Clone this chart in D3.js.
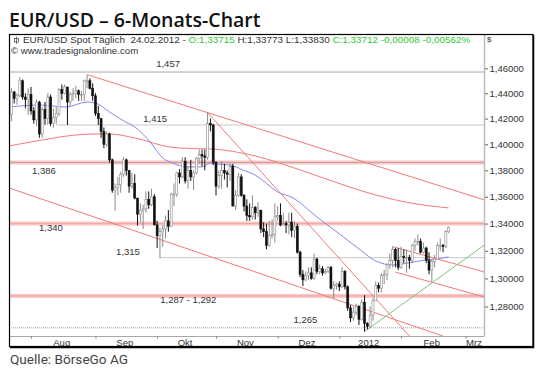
<!DOCTYPE html>
<html>
<head>
<meta charset="utf-8">
<script src="https://cdn.jsdelivr.net/npm/d3@7"></script>
<style>
  body { margin: 0; background: #fff; }
  text { font-family: "Liberation Sans", Arial, sans-serif; }
</style>
</head>
<body>
<svg id="chart" width="540" height="370"></svg>
<script>
// daily candles [open, high, low, close], index 0 = 21.07.2011, one per trading day
const candles = [
  // Jul 2011
  [1.4230,1.4440,1.4180,1.4410],[1.4410,1.4420,1.4320,1.4360],[1.4360,1.4400,1.4310,1.4380],
  [1.4380,1.4530,1.4370,1.4500],[1.4500,1.4510,1.4350,1.4370],[1.4370,1.4400,1.4280,1.4350],
  [1.4350,1.4440,1.4230,1.4390],
  // Aug
  [1.4390,1.4450,1.4230,1.4260],[1.4260,1.4290,1.4160,1.4190],[1.4190,1.4350,1.4140,1.4330],
  [1.4330,1.4340,1.4050,1.4080],[1.4080,1.4290,1.4050,1.4270],[1.4270,1.4330,1.4150,1.4200],
  [1.4200,1.4400,1.4150,1.4370],[1.4370,1.4390,1.4140,1.4160],[1.4160,1.4280,1.4130,1.4210],
  [1.4210,1.4290,1.4160,1.4240],[1.4240,1.4440,1.4220,1.4430],[1.4430,1.4470,1.4350,1.4400],
  [1.4400,1.4470,1.4390,1.4450],[1.4450,1.4450,1.4150,1.4330],[1.4330,1.4410,1.4300,1.4390],
  [1.4390,1.4440,1.4340,1.4400],[1.4400,1.4460,1.4360,1.4420],[1.4420,1.4430,1.4340,1.4390],
  [1.4390,1.4420,1.4340,1.4390],[1.4390,1.4510,1.4340,1.4500],[1.4500,1.4549,1.4440,1.4500],
  [1.4500,1.4520,1.4430,1.4440],[1.4440,1.4480,1.4340,1.4380],
  // Sep
  [1.4380,1.4400,1.4220,1.4240],[1.4240,1.4300,1.4150,1.4200],[1.4200,1.4200,1.4050,1.4100],
  [1.4100,1.4130,1.3970,1.4000],[1.4000,1.4100,1.3980,1.4080],[1.4080,1.4090,1.3860,1.3880],
  [1.3880,1.3890,1.3630,1.3650],[1.3650,1.3700,1.3495,1.3670],[1.3670,1.3750,1.3610,1.3690],
  [1.3690,1.3790,1.3630,1.3770],[1.3770,1.3900,1.3750,1.3880],[1.3880,1.3890,1.3760,1.3800],
  [1.3800,1.3800,1.3630,1.3680],[1.3680,1.3780,1.3660,1.3700],[1.3700,1.3770,1.3580,1.3590],
  [1.3590,1.3590,1.3385,1.3470],[1.3470,1.3550,1.3410,1.3500],[1.3500,1.3540,1.3360,1.3510],
  [1.3510,1.3640,1.3480,1.3580],[1.3580,1.3640,1.3510,1.3540],[1.3540,1.3660,1.3530,1.3600],
  [1.3600,1.3620,1.3390,1.3390],
  // Okt
  [1.3390,1.3420,1.3220,1.3310],[1.3310,1.3370,1.3146,1.3340],[1.3340,1.3390,1.3230,1.3360],
  [1.3360,1.3460,1.3290,1.3420],[1.3420,1.3500,1.3340,1.3380],[1.3380,1.3630,1.3380,1.3620],
  [1.3620,1.3700,1.3530,1.3620],[1.3620,1.3790,1.3600,1.3780],[1.3780,1.3810,1.3700,1.3750],
  [1.3750,1.3900,1.3740,1.3870],[1.3870,1.3900,1.3700,1.3720],[1.3720,1.3830,1.3660,1.3800],
  [1.3800,1.3880,1.3720,1.3750],[1.3750,1.3800,1.3650,1.3780],[1.3780,1.3900,1.3770,1.3890],
  [1.3890,1.3960,1.3850,1.3920],[1.3920,1.3960,1.3830,1.3910],[1.3910,1.3960,1.3800,1.3900],
  [1.3900,1.4247,1.3880,1.4160],[1.4160,1.4200,1.4100,1.4150],[1.4150,1.4160,1.3840,1.3860],
  // Nov
  [1.3860,1.3870,1.3610,1.3680],[1.3680,1.3800,1.3660,1.3760],[1.3760,1.3870,1.3660,1.3800],
  [1.3800,1.3850,1.3730,1.3780],[1.3780,1.3800,1.3670,1.3770],[1.3770,1.3850,1.3720,1.3830],
  [1.3830,1.3850,1.3530,1.3530],[1.3530,1.3650,1.3500,1.3610],[1.3610,1.3780,1.3600,1.3750],
  [1.3750,1.3770,1.3600,1.3610],[1.3610,1.3620,1.3490,1.3530],[1.3530,1.3580,1.3420,1.3460],
  [1.3460,1.3550,1.3420,1.3450],[1.3450,1.3610,1.3430,1.3520],[1.3520,1.3530,1.3430,1.3480],
  [1.3480,1.3560,1.3450,1.3500],[1.3500,1.3500,1.3330,1.3360],[1.3360,1.3410,1.3300,1.3340],
  [1.3340,1.3400,1.3211,1.3240],[1.3240,1.3420,1.3230,1.3310],[1.3310,1.3430,1.3290,1.3320],
  [1.3320,1.3550,1.3260,1.3450],
  // Dez
  [1.3450,1.3530,1.3420,1.3460],[1.3460,1.3550,1.3380,1.3390],[1.3390,1.3480,1.3390,1.3400],
  [1.3400,1.3420,1.3330,1.3390],[1.3390,1.3480,1.3320,1.3410],[1.3410,1.3480,1.3300,1.3350],
  [1.3350,1.3420,1.3290,1.3380],[1.3380,1.3400,1.3180,1.3190],[1.3190,1.3200,1.3010,1.3030],
  [1.3030,1.3060,1.2945,1.2990],[1.2990,1.3050,1.2980,1.3020],[1.3020,1.3080,1.2990,1.3040],
  [1.3040,1.3080,1.2990,1.3000],[1.3000,1.3180,1.2990,1.3140],[1.3140,1.3150,1.3030,1.3050],
  [1.3050,1.3100,1.3030,1.3070],[1.3070,1.3090,1.3020,1.3040],[1.3040,1.3070,1.3030,1.3050],
  [1.3050,1.3090,1.3040,1.3080],[1.3080,1.3090,1.2920,1.2930],[1.2930,1.2980,1.2860,1.2950],
  [1.2950,1.2970,1.2920,1.2960],
  // Jan 2012
  [1.2960,1.2980,1.2910,1.2940],[1.2940,1.3080,1.2930,1.3050],[1.3050,1.3060,1.2920,1.2940],
  [1.2940,1.2950,1.2770,1.2790],[1.2790,1.2810,1.2690,1.2720],[1.2720,1.2800,1.2700,1.2760],
  [1.2760,1.2820,1.2740,1.2800],[1.2800,1.2810,1.2670,1.2710],[1.2710,1.2850,1.2700,1.2830],
  [1.2830,1.2880,1.2624,1.2680],[1.2680,1.2690,1.2640,1.2660],[1.2660,1.2800,1.2650,1.2740],
  [1.2740,1.2860,1.2700,1.2840],[1.2840,1.2980,1.2840,1.2950],[1.2950,1.2970,1.2900,1.2930],
  [1.2930,1.3040,1.2900,1.3020],[1.3020,1.3060,1.2960,1.3030],[1.3030,1.3110,1.2990,1.3100],
  [1.3100,1.3180,1.3070,1.3130],[1.3130,1.3230,1.3080,1.3210],[1.3210,1.3220,1.3080,1.3130],
  [1.3130,1.3220,1.3060,1.3080],
  // Feb
  [1.3080,1.3230,1.3070,1.3160],[1.3160,1.3210,1.3110,1.3150],[1.3150,1.3210,1.3040,1.3150],
  [1.3150,1.3170,1.3070,1.3130],[1.3130,1.3250,1.3110,1.3240],[1.3240,1.3290,1.3200,1.3270],
  [1.3270,1.3320,1.3240,1.3270],[1.3270,1.3290,1.3180,1.3190],[1.3190,1.3260,1.3180,1.3220],
  [1.3220,1.3230,1.3110,1.3130],[1.3130,1.3190,1.3030,1.3060],[1.3060,1.3140,1.2975,1.3120],
  [1.3120,1.3170,1.3080,1.3140],[1.3140,1.3260,1.3140,1.3240],[1.3240,1.3290,1.3200,1.3240],
  [1.3240,1.3250,1.3190,1.3230],[1.3230,1.3350,1.3220,1.3340],[1.3340,1.3378,1.3330,1.3371]
];

// moving averages: [day index, price]
const maBlue = [
  [-0.8,1.4291],[10,1.4307],[19.5,1.4291],[27,1.4331],[30,1.4323],[35,1.4252],[39.5,1.4189],
  [44,1.4135],[49.5,1.4018],[54,1.3894],[57.5,1.3856],[62.5,1.3826],[68,1.3826],[71,1.3856],
  [73.5,1.3848],[78,1.3841],[82.5,1.3803],[87,1.3764],[95,1.3636],[100.5,1.3591],[109,1.3449],
  [118.5,1.3301],[124.5,1.3206],[130,1.3126],[136,1.3097],[141.5,1.3111],[147.5,1.3133],
  [151,1.3140],[156,1.3155]
];
const maRed = [
  [-0.8,1.3987],[11,1.4033],[23,1.4072],[30,1.4080],[35,1.4080],[44,1.4049],[56.5,1.3979],
  [64,1.3967],[71,1.3964],[87,1.3910],[103,1.3803],[117.5,1.3696],[130,1.3613],[142.5,1.3553],
  [156,1.3516]
];

// trend lines: [[index, price], [index, price]]
const trendRed = [
  [[27,1.4549],[168.8,1.3576]],
  [[-0.8,1.3666],[154,1.2593]],
  [[70,1.4247],[142,1.2593]],
  [[136,1.3231],[168.8,1.3046]],
  [[137,1.3046],[168.8,1.2867]]
];
const trendGreen = [[126,1.2624],[168.8,1.3243]];

// marked levels
const levels = [
  { v: 1.457,  text: "1,457",         kind: "gray",   from: -1 },
  { v: 1.415,  text: "1,415",         kind: "light",  from: 15.9 },
  { v: 1.386,  text: "1,386",         kind: "bandDark" },
  { v: 1.340,  text: "1,340",         kind: "band" },
  { v: 1.315,  text: "1,315",         kind: "light",  from: 53 },
  { v: 1.2875, text: "1,287 - 1,292", kind: "band" },
  { v: 1.265,  text: "1,265",         kind: "dotted" }
];

const priceTicks = [1.46, 1.44, 1.42, 1.40, 1.38, 1.36, 1.34, 1.32, 1.30, 1.28];
const monthTicks = [7, 30, 52, 73, 95, 117, 139, 162];
const monthLabels = ["Aug", "Sep", "Okt", "Nov", "Dez", "2012", "Feb", "Mrz"];

// ---------------------------------------------------------------
const svg = d3.select("#chart");
const plot = { left: 9, right: 484, top: 34, bottom: 336 };

const x = d3.scaleLinear().domain([7, 139]).range([31, 401]);
const y = d3.scaleLog().domain([1.28, 1.46]).range([306.5, 68.3]);

svg.append("rect").attr("width", 540).attr("height", 370).attr("fill", "#fff");

svg.append("defs").append("clipPath").attr("id", "clip")
  .append("rect")
  .attr("x", plot.left).attr("y", plot.top)
  .attr("width", plot.right - plot.left).attr("height", plot.bottom - plot.top);

// title
svg.append("text")
  .attr("x", 9).attr("y", 27)
  .style("font-family", "'Open Sans', sans-serif")
  .style("font-weight", 600)
  .style("font-size", "19.5px")
  .attr("fill", "#111")
  .text("EUR/USD – 6-Monats-Chart");

const g = svg.append("g").attr("clip-path", "url(#clip)");

// levels
const lw = plot.right - plot.left;
levels.forEach(l => {
  const ly = y(l.v);
  if (l.kind === "band" || l.kind === "bandDark") {
    g.append("rect").attr("x", plot.left).attr("width", lw)
      .attr("y", ly - 2).attr("height", 4).attr("fill", "#f8c6c6");
    g.append("line").attr("x1", plot.left).attr("x2", plot.right)
      .attr("y1", ly).attr("y2", ly)
      .attr("stroke", l.kind === "bandDark" ? "#c4a29c" : "#f2a7a7").attr("stroke-width", 1);
  } else {
    const x1 = l.from !== undefined ? Math.max(plot.left, x(l.from)) : plot.left;
    g.append("line").attr("x1", x1).attr("x2", plot.right)
      .attr("y1", ly).attr("y2", ly)
      .attr("stroke", l.kind === "gray" ? "#a8a8a8" : (l.kind === "dotted" ? "#a0a0a0" : "#c8c8c8"))
      .attr("stroke-width", 1)
      .attr("stroke-dasharray", l.kind === "dotted" ? "1,1" : null);
  }
});

const line = d3.line().x(d => x(d[0])).y(d => y(d[1]));

// moving averages
g.append("path").datum(maRed).attr("d", line.curve(d3.curveMonotoneX))
  .attr("fill", "none").attr("stroke", "#f27c7c").attr("stroke-width", 1);
g.append("path").datum(maBlue).attr("d", line.curve(d3.curveMonotoneX))
  .attr("fill", "none").attr("stroke", "#8585f2").attr("stroke-width", 1);

// trend lines
line.curve(d3.curveLinear);
g.selectAll("path.trend").data(trendRed).join("path").attr("class", "trend")
  .attr("d", line).attr("fill", "none").attr("stroke", "#f07a7a").attr("stroke-width", 1);
g.append("path").datum(trendGreen).attr("d", line)
  .attr("fill", "none").attr("stroke", "#7cc47c").attr("stroke-width", 1);

// candles
const bw = 2;
const cg = g.selectAll("g.candle").data(candles).join("g").attr("class", "candle");
cg.append("line")
  .attr("x1", (d, i) => x(i)).attr("x2", (d, i) => x(i))
  .attr("y1", d => y(d[1])).attr("y2", d => y(d[2]))
  .attr("stroke", d => d[3] >= d[0] ? "#8a8a8a" : "#111").attr("stroke-width", 1);
cg.append("rect")
  .attr("x", (d, i) => x(i) - bw / 2)
  .attr("width", bw)
  .attr("y", d => y(Math.max(d[0], d[3])))
  .attr("height", d => Math.max(1, y(Math.min(d[0], d[3])) - y(Math.max(d[0], d[3]))))
  .attr("fill", d => d[3] >= d[0] ? "#fff" : "#111")
  .attr("stroke", d => d[3] >= d[0] ? "#8a8a8a" : "#111")
  .attr("stroke-width", 0.6);

// level labels
const labelPos = {
  "1,457": [55.9, -5], "1,415": [51.3, -2.5], "1,386": [11.6, 11.5], "1,340": [14.1, 7.5],
  "1,315": [41.6, -3], "1,287 - 1,292": [63.1, 7], "1,265": [104.9, -5]
};
svg.append("g").selectAll("text").data(levels).join("text")
  .attr("x", d => x(labelPos[d.text][0]))
  .attr("y", d => y(d.v) + labelPos[d.text][1])
  .attr("text-anchor", "middle")
  .attr("font-size", "9.5px").attr("fill", "#333")
  .text(d => d.text);

// axes
svg.append("line").attr("x1", plot.left).attr("x2", plot.right)
  .attr("y1", plot.bottom + 0.5).attr("y2", plot.bottom + 0.5)
  .attr("stroke", "#a8a8a8");
svg.append("line").attr("x1", plot.right + 0.5).attr("x2", plot.right + 0.5)
  .attr("y1", plot.top).attr("y2", plot.bottom + 0.5)
  .attr("stroke", "#bdbdbd").attr("stroke-width", 1.5);

const yAxis = svg.append("g").attr("transform", `translate(${plot.right + 1},0)`)
  .call(d3.axisRight(y).tickValues(priceTicks).tickSize(3).tickPadding(1.5)
    .tickFormat(d => d.toFixed(5).replace(".", ",")));
yAxis.select(".domain").remove();
yAxis.selectAll("line").attr("stroke", "#666");
yAxis.selectAll("text").attr("font-size", "9.5px").attr("fill", "#333")
  .style("font-family", "'Liberation Sans', Arial, sans-serif");

const xAxis = svg.append("g").attr("transform", `translate(0,${plot.bottom + 0.5})`)
  .call(d3.axisBottom(x).tickValues(monthTicks).tickSize(2).tickFormat(""));
xAxis.select(".domain").remove();
xAxis.selectAll("line").attr("stroke", "#777");

svg.append("g").selectAll("text").data(monthLabels).join("text")
  .attr("x", (d, i) => i < monthTicks.length - 1
    ? (x(monthTicks[i]) + x(monthTicks[i + 1])) / 2 - 1.5
    : plot.right - 10)
  .attr("y", 345.5)
  .attr("text-anchor", "middle")
  .attr("font-size", "9.5px").attr("fill", "#333")
  .text(d => d);

// header inside frame
const hdr = svg.append("text").attr("x", 23).attr("y", 43).attr("font-size", "9.9px").attr("fill", "#333");
hdr.append("tspan").text("EUR/USD Spot Täglich  24.02.2012 - ").attr("xml:space", "preserve");
hdr.append("tspan").text("O:1,33715").attr("fill", "#33c733");
hdr.append("tspan").text(" H:1,33773 L:1,33830 ");
hdr.append("tspan").text("C:1,33712 -0,00008 -0,00562%").attr("fill", "#33c733");
svg.append("rect").attr("x", 14.5).attr("y", 38.5).attr("width", 4).attr("height", 3.5)
  .attr("fill", "none").attr("stroke", "#555").attr("stroke-width", 0.8);
svg.append("line").attr("x1", 16.5).attr("x2", 16.5).attr("y1", 36.5).attr("y2", 44)
  .attr("stroke", "#555").attr("stroke-width", 0.8);
svg.append("text").attr("x", 11).attr("y", 54).attr("font-size", "9.7px").attr("fill", "#333")
  .text("© www.tradesignalonline.com");
svg.append("text").attr("x", 487).attr("y", 42).attr("font-size", "8px").attr("fill", "#333").text("$");

// frame
svg.append("rect").attr("x", 9.5).attr("y", 34.5).attr("width", 523.5).attr("height", 312)
  .attr("fill", "none").attr("stroke", "#000").attr("stroke-width", 1.2);
svg.append("path").attr("d", "M533.5,35 V347.5 H10").attr("fill", "none")
  .attr("stroke", "#000").attr("stroke-width", 1.5);

// source
svg.append("text").attr("x", 10).attr("y", 363.5)
  .style("font-family", "Roboto, sans-serif").style("font-size", "13.6px")
  .attr("fill", "#444").text("Quelle: BörseGo AG");
</script>
</body>
</html>
